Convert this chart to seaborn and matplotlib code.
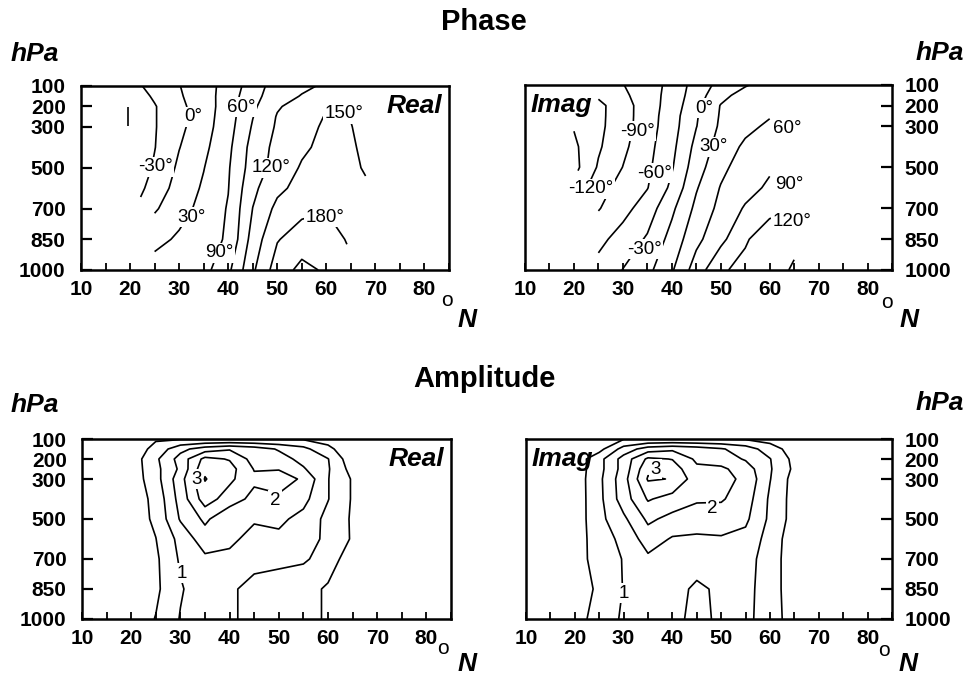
import numpy as np
import matplotlib
matplotlib.use("Agg")
import matplotlib.pyplot as plt
from matplotlib.ticker import MultipleLocator
import seaborn as sns

# ---------------- data ----------------
LATS = [10, 15, 20, 25, 30, 35, 40, 45, 50, 55, 60, 65, 70, 75, 80, 85]
PRESSURES = [100, 150, 200, 250, 300, 400, 500, 600, 700, 850, 1000]
M = np.nan

PHASE_REAL = [
    [M, M, -40, -20, -1, 18, 41, 75, 104, 113, 125, 132, 138, M, M, M],
    [M, M, -48, -26, -3.5, 17.5, 43, 81, 105, 122, 135, 140, 138, M, M, M],
    [M, M, -58, -32, -7.4, 16.4, 44, 84, 117, 132, 145, 146, 140, M, M, M],
    [M, -80, -58, -32, -7.3, 17, 46, 89, 122, 135, 152, 149, 140, M, M, M],
    [M, M, -58, -32, -7.3, 18, 48, 93, 124, 139, 155, 151, 134, M, M, M],
    [M, M, -58, -31, -1, 23, 53, 101, 129, 145, 158, 153, 140, M, M, M],
    [M, M, -55, -26.5, 5.6, 29, 57, 104, 132, 153, 163, 157, 140, M, M, M],
    [M, M, -50, -16.4, 11.5, 34, 59, 113, 143, 160, 168, 165, M, M, M, M],
    [M, M, M, -3.5, 18.3, 39.7, 62.2, 120.5, 158, 172, 178, 172, M, M, M, M],
    [M, M, M, 20, 35, 50, 63, 132.5, 178, 195, 195, 175, M, M, M, M],
    [M, M, M, 45, 55, 50, 83, 145, 195, 218, 206, M, M, M, M, M],
]

PHASE_IMAG = [
    [M, M, M, -110, -91, -73, -52, -17, 9.3, 27, 45, M, M, M, M, M],
    [M, M, M, -115, -96, -74, -49, -14, 20, 43, 55, M, M, M, M, M],
    [M, M, M, -128, -102, -75, -46.5, -9, 31.5, 45, 57, M, M, M, M, M],
    [M, M, M, -127.5, -102.5, -74, -44, -3, 33, 47, 58, M, M, M, M, M],
    [M, M, -148, -127, -102, -73.5, -42.5, -1, 35, 52, 65, M, M, M, M, M],
    [M, M, -156, -124, -96.5, -69.6, -38.2, 8.6, 42.5, 65.5, 75, M, M, M, M, M],
    [M, M, -160, -116.7, -89.5, -66.2, -32.9, 16.7, 51.7, 76, 86, M, M, M, M, M],
    [M, M, M, -100, -80.6, -61.2, -23.5, 27.4, 61.8, 79.4, 95, M, M, M, M, M],
    [M, M, M, -92, -70, -45.6, -6.2, 37.1, 68.6, 93, 110, M, M, M, M, M],
    [M, M, M, -68, -48, -26.5, 10.6, 52, 82, 116, 140, 145, M, M, M, M],
    [M, M, M, -50, -29.2, -8.3, 26.5, 74.3, 115.3, 129.8, 141, 152.5, M, M, M, M],
]

AMP_REAL = [
    [.1, .1, .1, .45, .45, .45, .45, .45, .45, .45, .35, .1, .1, .1, .1, .1],
    [.2, .2, .2, .65, 1.35, 1.75, 1.95, 1.75, 1.45, 1.15, .6, .2, .15, .15, .15, .15],
    [.2, .2, .2, .9, 1.7, 2.65, 2.46, 1.8, 1.7, 1.35, 1.02, .15, .1, .1, .1, .1],
    [.2, .2, .2, .85, 1.6, 2.9, 2.7, 1.97, 1.97, 1.55, 1.05, .3, .1, .1, .1, .1],
    [.2, .2, .2, .8, 1.8, 3.03, 2.61, 2.1, 2.25, 1.92, 1.02, .45, .1, .1, .1, .1],
    [.2, .2, .2, .64, 1.7, 2.75, 2.25, 1.85, 1.9, 1.65, 1.02, .45, .1, .1, .1, .1],
    [.2, .2, .2, .6, 1.55, 2.1, 1.6, 1.55, 1.6, 1.35, .85, .44, .1, .1, .1, .1],
    [.2, .2, .2, .49, 1.16, 1.77, 1.6, 1.35, 1.4, 1.3, .85, .45, .1, .1, .1, .1],
    [.2, .2, .2, .41, 1.07, 1.4, 1.39, 1.1, 1.1, 1.05, .85, .1, .1, .1, .1, .1],
    [.2, .2, .2, .4, .95, 1.3, 1.05, .9, .8, .75, .41, .1, .1, .1, .1, .1],
    [.2, .2, .2, .52, 1.03, 1.3, 1.1, .8, .8, .75, .41, .1, .1, .1, .1, .1],
]

AMP_IMAG = [
    [.1, .1, .1, .1, .47, .47, .47, .47, .47, .45, .3, .1, .1, .1, .1, .1],
    [.2, .2, .2, .33, 1.2, 1.75, 1.9, 1.75, 1.55, 1.25, .75, .25, .15, .15, .15, .15],
    [.2, .2, .2, .83, 1.7, 2.6, 2.48, 1.9, 1.75, 1.45, 1.02, .35, .1, .1, .1, .1],
    [.2, .2, .2, .83, 1.7, 2.9, 2.75, 2.1, 2.1, 1.75, 1.05, .4, .1, .1, .1, .1],
    [.2, .2, .2, .88, 1.8, 3.05, 2.98, 2.2, 2.15, 1.9, 1.02, .3, .1, .1, .1, .1],
    [.2, .2, .2, .86, 1.75, 2.55, 2.3, 2.05, 2.05, 1.75, .92, .3, .1, .1, .1, .1],
    [.2, .2, .2, .85, 1.4, 2.1, 1.85, 1.8, 1.75, 1.6, .9, .3, .1, .1, .1, .1],
    [.2, .2, .2, .8, 1.11, 1.75, 1.45, 1.4, 1.45, 1.35, .8, .2, .1, .1, .1, .1],
    [.2, .2, .2, .78, 1.02, 1.4, 1.3, 1.25, 1.25, 1.2, .75, .2, .1, .1, .1, .1],
    [.2, .2, .2, .6, 1.02, 1.3, 1.2, .9, 1.1, 1.15, .75, .2, .1, .1, .1, .1],
    [.2, .2, .2, .8, 1.05, 1.3, 1.15, .85, 1.1, 1.1, .8, .2, .1, .1, .1, .1],
]

PHASE_REAL_LEVELS = [-60, -30, 0, 30, 60, 90, 120, 150, 180, 210]
PHASE_IMAG_LEVELS = [-150, -120, -90, -60, -30, 0, 30, 60, 90, 120, 150]
AMP_LEVELS = [0.5, 1.0, 1.5, 2.0, 2.5, 3.0]

Y_TICKS = [100, 200, 300, 500, 700, 850, 1000]
X_TICKS = [10, 20, 30, 40, 50, 60, 70, 80]

# contour label texts (layout: lat, hPa)
PHASE_REAL_LABELS = [("-30°", 25.2, 495), ("0°", 32.8, 250), ("60°", 42.6, 205),
                     ("120°", 48.8, 500), ("150°", 63.6, 235), ("30°", 32.6, 742),
                     ("180°", 59.8, 742), ("90°", 38.2, 915)]
PHASE_IMAG_LABELS = [("-90°", 33.0, 325), ("-120°", 23.4, 605), ("-60°", 36.4, 530),
                     ("-30°", 34.4, 900), ("0°", 46.6, 212), ("30°", 48.6, 400),
                     ("60°", 63.6, 310), ("90°", 64.1, 585), ("120°", 64.6, 765)]
AMP_REAL_LABELS = [("1", 30.3, 772), ("2", 49.2, 405), ("3", 33.2, 300)]
AMP_IMAG_LABELS = [("1", 30.1, 872), ("2", 48.2, 447), ("3", 36.6, 250)]

# ---------------- styling ----------------
sns.set_theme(style="white")
plt.rcParams["font.family"] = ["Liberation Sans", "DejaVu Sans"]
plt.rcParams["text.color"] = "black"
plt.rcParams["axes.labelcolor"] = "black"
plt.rcParams["xtick.color"] = "black"
plt.rcParams["ytick.color"] = "black"
plt.rcParams["axes.edgecolor"] = "black"

W, H = 968, 678
fig = plt.figure(figsize=(W / 100, H / 100), dpi=100)


def fx(px):
    return px / W


def fy(py):
    return 1 - py / H


def make_axes(left, top, right, bottom):
    return fig.add_axes([fx(left), fy(bottom), fx(right) - fx(left), (bottom - top) / H])


def style_axes(ax, side):
    ax.set_xlim(10, 85)
    ax.set_ylim(1000, 100)
    for s in ax.spines.values():
        s.set_linewidth(1.8)
        s.set_color("black")
    ax.set_xticks(X_TICKS)
    ax.xaxis.set_minor_locator(MultipleLocator(5))
    ax.set_yticks(Y_TICKS)
    ax.set_yticklabels([str(v) for v in Y_TICKS])
    ax.tick_params(axis="x", which="both", direction="in", length=5, width=1.3,
                   pad=7, labelsize=15, colors="black", bottom=True, top=False)
    if side == "left":
        ax.tick_params(axis="y", direction="in", length=8, width=1.6, pad=11,
                       labelsize=15, colors="black", left=True, right=False,
                       labelleft=True, labelright=False)
    else:
        ax.tick_params(axis="y", direction="in", length=8, width=1.6, pad=9,
                       labelsize=15, colors="black", left=False, right=True,
                       labelleft=False, labelright=True)
    for lbl in ax.get_xticklabels() + ax.get_yticklabels():
        lbl.set_fontweight("bold")
        lbl.set_color("black")
    ax.set_facecolor("white")


def draw(ax, field, levels, labels, masked):
    z = np.array(field, dtype=float)
    if masked:
        z = np.ma.masked_invalid(z)
    ax.contour(LATS, PRESSURES, z, levels=levels, colors="black",
               linewidths=1.2, linestyles="solid")
    for txt, la, pr in labels:
        ax.text(la, pr, txt, ha="center", va="center", fontsize=13.5,
                color="black", zorder=6,
                bbox=dict(boxstyle="square,pad=0.08", fc="white", ec="none"))


ax_pr = make_axes(81, 86, 449, 270)
ax_pi = make_axes(525, 85, 892, 270)
ax_ar = make_axes(82, 439, 451, 619)
ax_ai = make_axes(526, 439, 892, 619)

draw(ax_pr, PHASE_REAL, PHASE_REAL_LEVELS, PHASE_REAL_LABELS, True)
draw(ax_pi, PHASE_IMAG, PHASE_IMAG_LEVELS, PHASE_IMAG_LABELS, True)
draw(ax_ar, AMP_REAL, AMP_LEVELS, AMP_REAL_LABELS, False)
draw(ax_ai, AMP_IMAG, AMP_LEVELS, AMP_IMAG_LABELS, False)

for ax, side in [(ax_pr, "left"), (ax_pi, "right"), (ax_ar, "left"), (ax_ai, "right")]:
    style_axes(ax, side)

# panel tags
for ax, tag in [(ax_pr, "Real"), (ax_ar, "Real")]:
    ax.text(0.982, 0.955, tag, transform=ax.transAxes, ha="right", va="top",
            fontsize=19, fontweight="bold", fontstyle="italic", color="black", zorder=7)
for ax, tag in [(ax_pi, "Imag"), (ax_ai, "Imag")]:
    ax.text(0.014, 0.955, tag, transform=ax.transAxes, ha="left", va="top",
            fontsize=19, fontweight="bold", fontstyle="italic", color="black", zorder=7)

# titles
fig.text(0.5, fy(22), "Phase", ha="center", va="center", fontsize=21,
         fontweight="bold", color="black")
fig.text(0.5, fy(379), "Amplitude", ha="center", va="center", fontsize=21,
         fontweight="bold", color="black")

# hPa labels
for (x, y) in [(35, 54), (940, 53), (35, 405), (940, 403)]:
    fig.text(fx(x), fy(y), "hPa", ha="center", va="center", fontsize=19,
             fontweight="bold", fontstyle="italic", color="black")

# degree-north labels
for (ox, oy, nx, ny) in [(447, 300, 467, 320), (887, 303, 909, 320),
                         (443, 648, 467, 664), (884, 650, 908, 664)]:
    fig.text(fx(ox), fy(oy), "o", ha="center", va="center", fontsize=15, color="black")
    fig.text(fx(nx), fy(ny), "N", ha="center", va="center", fontsize=19,
             fontweight="bold", fontstyle="italic", color="black")

fig.savefig("out.png", dpi=100, facecolor="white")
